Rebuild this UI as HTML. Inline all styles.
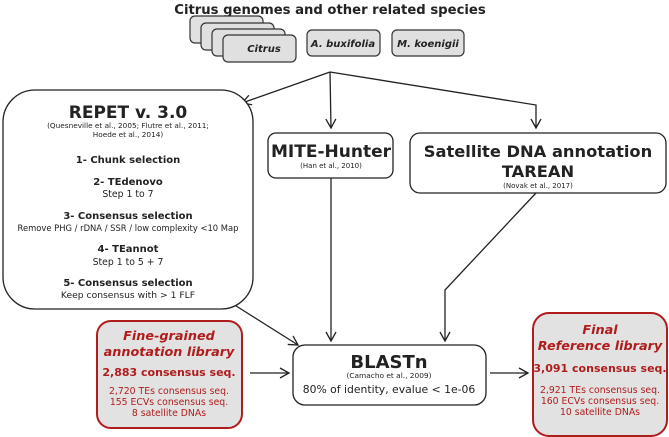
<!DOCTYPE html>
<html><head><meta charset="utf-8"><style>
html,body{margin:0;padding:0;background:#fff;}
svg{display:block;font-family:"DejaVu Sans","Liberation Sans",sans-serif;}
</style></head><body>
<svg width="669" height="437" viewBox="0 0 669 437" xmlns="http://www.w3.org/2000/svg">
<defs><marker id="a" markerWidth="12" markerHeight="12" refX="10" refY="6" orient="auto" markerUnits="userSpaceOnUse"><path d="M1,1 L10,6 L1,11" fill="none" stroke="#222" stroke-width="1.3"/></marker></defs>
<text x="330" y="14" text-anchor="middle" font-size="13.2" font-weight="bold" fill="#222">Citrus genomes and other related species</text>
<g fill="#e0e0e0" stroke="#333" stroke-width="1.2">
<rect x="190" y="16" width="73" height="27" rx="5"/>
<rect x="201" y="23" width="73" height="27" rx="5"/>
<rect x="212" y="29" width="73" height="27" rx="5"/>
<rect x="223" y="35" width="73" height="27" rx="5"/>
<rect x="307" y="30" width="73" height="26" rx="5"/>
<rect x="392" y="30" width="72" height="26" rx="5"/>
</g>
<g font-size="10" font-weight="bold" font-style="italic" fill="#222" text-anchor="middle">
<text x="264" y="52">Citrus</text>
<text x="343" y="47">A. buxifolia</text>
<text x="428" y="47">M. koenigii</text>
</g>
<g stroke="#222" stroke-width="1.3" fill="none">
<line x1="330" y1="72" x2="242" y2="103" marker-end="url(#a)"/>
<line x1="330" y1="72" x2="331" y2="128" marker-end="url(#a)"/>
<polyline points="330,72 536,105 536,128" marker-end="url(#a)"/>
<line x1="233" y1="304" x2="298" y2="345" marker-end="url(#a)"/>
<line x1="331" y1="178" x2="331" y2="341" marker-end="url(#a)"/>
<polyline points="536,193 445,290 445,341" marker-end="url(#a)"/>
<line x1="250" y1="373" x2="289" y2="373" marker-end="url(#a)"/>
<line x1="490" y1="373" x2="528" y2="373" marker-end="url(#a)"/>
</g>
<g fill="#fff" stroke="#222" stroke-width="1.3">
<rect x="3" y="90" width="250" height="219" rx="32"/>
<rect x="268" y="133" width="125" height="45" rx="8"/>
<rect x="410" y="133" width="256" height="60" rx="10"/>
<rect x="293" y="345" width="193" height="60" rx="12"/>
</g>
<g fill="#e2e2e2" stroke="#b01c1c" stroke-width="2">
<rect x="97" y="321" width="145" height="107" rx="14"/>
<rect x="533" y="313" width="134" height="123" rx="16"/>
</g>
<g text-anchor="middle" fill="#222">
<text x="128" y="118" font-size="17" font-weight="bold">REPET v. 3.0</text>
<text x="128" y="128" font-size="7.3">(Quesneville et al., 2005; Flutre et al., 2011;</text>
<text x="128" y="137" font-size="7.3">Hoede et al., 2014)</text>
<text x="128" y="163" font-size="10" font-weight="bold">1- Chunk selection</text>
<text x="128" y="185" font-size="10" font-weight="bold">2- TEdenovo</text>
<text x="128" y="197" font-size="9.3">Step 1 to 7</text>
<text x="128" y="219" font-size="10" font-weight="bold">3- Consensus selection</text>
<text x="128" y="231" font-size="8.4">Remove PHG / rDNA / SSR / low complexity &lt;10 Map</text>
<text x="128" y="252" font-size="10" font-weight="bold">4- TEannot</text>
<text x="128" y="265" font-size="9.3">Step 1 to 5 + 7</text>
<text x="128" y="286" font-size="10" font-weight="bold">5- Consensus selection</text>
<text x="128" y="298" font-size="9.2">Keep consensus with &gt; 1 FLF</text>
<text x="331" y="157" font-size="17" font-weight="bold">MITE-Hunter</text>
<text x="331" y="168" font-size="7">(Han et al., 2010)</text>
<text x="538" y="157" font-size="16.3" font-weight="bold">Satellite DNA annotation</text>
<text x="538" y="177" font-size="16.3" font-weight="bold">TAREAN</text>
<text x="538" y="188" font-size="7">(Novak et al., 2017)</text>
<text x="389" y="368" font-size="18" font-weight="bold">BLASTn</text>
<text x="389" y="378" font-size="7.4">(Camacho et al., 2009)</text>
<text x="389" y="393" font-size="10.8">80% of identity, evalue &lt; 1e-06</text>
</g>
<g text-anchor="middle" fill="#b01c1c">
<text x="169" y="340" font-size="12.8" font-weight="bold" font-style="italic">Fine-grained</text>
<text x="169" y="356" font-size="12.8" font-weight="bold" font-style="italic">annotation library</text>
<text x="169" y="376" font-size="11" font-weight="bold">2,883 consensus seq.</text>
<text x="169" y="394" font-size="9.3">2,720 TEs consensus seq.</text>
<text x="169" y="405" font-size="9.3">155 ECVs consensus seq.</text>
<text x="169" y="416" font-size="9.3">8 satellite DNAs</text>
<text x="600" y="334" font-size="12.8" font-weight="bold" font-style="italic">Final</text>
<text x="600" y="350" font-size="12.8" font-weight="bold" font-style="italic">Reference library</text>
<text x="600" y="372" font-size="11" font-weight="bold">3,091 consensus seq.</text>
<text x="600" y="393" font-size="9.3">2,921 TEs consensus seq.</text>
<text x="600" y="404" font-size="9.3">160 ECVs consensus seq.</text>
<text x="600" y="415" font-size="9.3">10 satellite DNAs</text>
</g>
</svg>
</body></html>
